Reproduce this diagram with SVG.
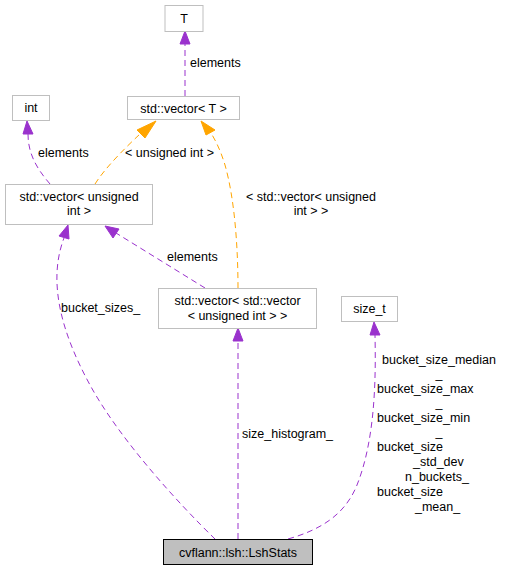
<svg xmlns="http://www.w3.org/2000/svg" width="506" height="571" viewBox="0 0 506 571">
<style>
text{font-family:"Liberation Sans",Arial,sans-serif;font-size:12.5px;fill:#000}
.n rect{fill:#fff;stroke:#bfbfbf;stroke-width:1}
.m{text-anchor:middle}
.p{fill:none;stroke:#9a32cd;stroke-width:1;stroke-dasharray:6,4}
.o{fill:none;stroke:#ffa500;stroke-width:1;stroke-dasharray:6,4}
.ph{fill:#9a32cd;stroke:#9a32cd}
.oh{fill:#ffa500;stroke:#ffa500}
</style>
<rect width="506" height="571" fill="#fff"/>
<g id="connectors">
<path class="p" d="M185,96 L185,44"/>
<polygon class="ph" points="185,31 180,44 190,44"/>
<text x="190" y="67">elements</text>

<path class="p" d="M50,184 C38,170 28,155 28,134"/>
<polygon class="ph" points="27,121 23,134 33,134"/>
<text x="38" y="157">elements</text>

<path class="o" d="M95,184 C105,168 125,148 140,134"/>
<polygon class="oh" points="156,121 137,130 145,138"/>
<text x="125" y="157">&lt; unsigned int &gt;</text>

<path class="o" d="M238,288 C238,250 235,200 225,165 C221,152 217,143 211,133"/>
<polygon class="oh" points="201,121 206,135 215,130"/>
<text class="m" x="311" y="201">&lt; std::vector&lt; unsigned</text>
<text class="m" x="311" y="215">int &gt; &gt;</text>

<path class="p" d="M205,288 L116,233"/>
<polygon class="ph" points="105,226 113,238 119,229"/>
<text x="167" y="261">elements</text>

<path class="p" d="M215,539 C180,505 120,440 90,385 C60,330 48,280 64,238"/>
<polygon class="ph" points="68,225 59,236 69,239"/>
<text x="61" y="312">bucket_sizes_</text>

<path class="p" d="M238,539 L238,341"/>
<polygon class="ph" points="238,328 233,341 243,341"/>
<text x="242" y="438">size_histogram_</text>

<path class="p" d="M288,539 C320,530 345,515 357,485 C375,440 376,380 375,335"/>
<polygon class="ph" points="374,322 370,335 380,335"/>
<text x="382" y="363.5">bucket_size_median</text>
<text class="m" x="439" y="378">_</text>
<text x="377" y="392.5">bucket_size_max</text>
<text class="m" x="439" y="407">_</text>
<text x="377" y="421.5">bucket_size_min</text>
<text class="m" x="439" y="436">_</text>
<text x="377" y="451">bucket_size</text>
<text x="413" y="466">_std_dev</text>
<text x="405" y="481">n_buckets_</text>
<text x="377" y="496">bucket_size</text>
<text x="415" y="511">_mean_</text>
</g>
<g id="node-T" class="n"><rect x="165" y="5.5" width="38" height="26"/><text class="m" x="184" y="23">T</text></g>
<g id="node-vectorT" class="n"><rect x="127.5" y="96.5" width="112" height="23"/><text class="m" x="183.5" y="113">std::vector&lt; T &gt;</text></g>
<g id="node-int" class="n"><rect x="12.5" y="95.5" width="37" height="25"/><text class="m" x="31" y="112">int</text></g>
<g id="node-vectorUint" class="n"><rect x="5.5" y="184.5" width="147" height="40"/><text class="m" x="79" y="201">std::vector&lt; unsigned</text><text class="m" x="79" y="215">int &gt;</text></g>
<g id="node-vectorVector" class="n"><rect x="158.5" y="288.5" width="158" height="40"/><text class="m" x="237.5" y="304.5">std::vector&lt; std::vector</text><text class="m" x="237.5" y="319.5">&lt; unsigned int &gt; &gt;</text></g>
<g id="node-size_t" class="n"><rect x="341.5" y="296.5" width="56" height="25"/><text class="m" x="369.5" y="313">size_t</text></g>
<g id="node-LshStats"><rect x="163.5" y="539.5" width="149" height="25" fill="#bfbfbf" stroke="#000"/><text class="m" x="238" y="557">cvflann::lsh::LshStats</text></g>
</svg>
